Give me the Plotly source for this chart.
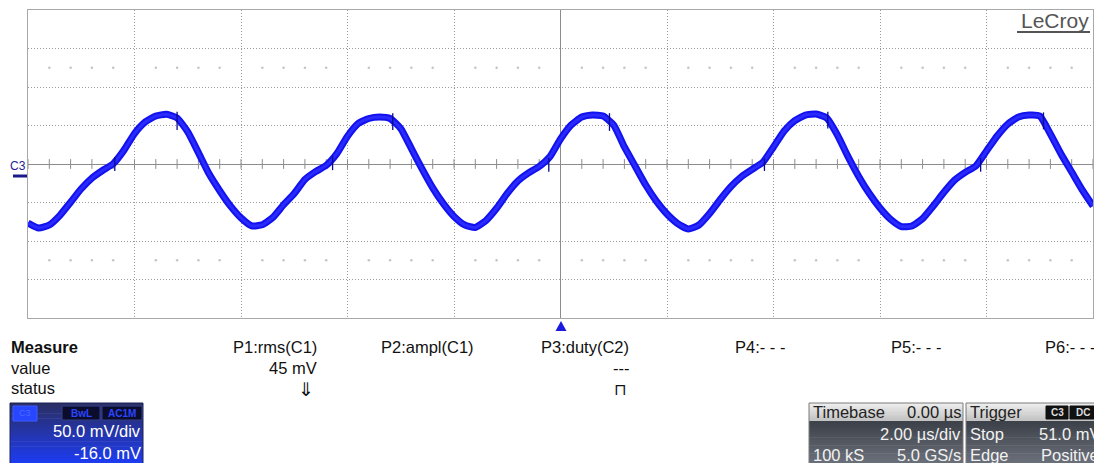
import plotly.graph_objects as go

# ---------------- data ----------------
time_us = [
    -10.0, -9.8, -9.6, -9.4, -9.2, -9.0, -8.8, -8.6, -8.4, -8.2,
    -8.0, -7.8, -7.6, -7.4, -7.2, -7.0, -6.8, -6.6, -6.4, -6.2,
    -6.0, -5.8, -5.6, -5.4, -5.2, -5.0, -4.8, -4.6, -4.4, -4.2,
    -4.0, -3.8, -3.6, -3.4, -3.2, -3.0, -2.8, -2.6, -2.4, -2.2,
    -2.0, -1.8, -1.6, -1.4, -1.2, -1.0, -0.8, -0.6, -0.4, -0.2,
    0.0, 0.2, 0.4, 0.6, 0.8, 1.0, 1.2, 1.4, 1.6, 1.8,
    2.0, 2.2, 2.4, 2.6, 2.8, 3.0, 3.2, 3.4, 3.6, 3.8,
    4.0, 4.2, 4.4, 4.6, 4.8, 5.0, 5.2, 5.4, 5.6, 5.8,
    6.0, 6.2, 6.4, 6.6, 6.8, 7.0, 7.2, 7.4, 7.6, 7.8,
    8.0, 8.2, 8.4, 8.6, 8.8, 9.0, 9.2, 9.4, 9.6, 9.8, 10.0,
]
c3_mV = [
    -76.6, -83.1, -79.2, -66.6, -49.6, -32.2, -18.3, -8.4, 0.3, 17.7,
    39.5, 54.4, 62.3, 64.5, 59.7, 41.7, 14.8, -12.7, -34.7, -54.4,
    -70.0, -80.4, -79.0, -69.3, -52.9, -38.2, -20.1, -9.9, -1.8, 13.5,
    36.1, 52.6, 59.1, 61.0, 59.1, 46.0, 20.0, -6.4, -31.0, -51.5,
    -68.1, -79.1, -82.5, -73.4, -57.5, -38.1, -22.0, -11.6, -3.2, 9.4,
    32.5, 50.6, 61.0, 63.6, 62.3, 50.6, 22.1, -2.6, -27.3, -48.1,
    -64.9, -77.3, -84.4, -79.2, -64.3, -46.1, -29.4, -16.4, -7.0, 2.2,
    22.1, 42.9, 56.4, 63.6, 64.9, 59.7, 37.7, 9.6, -16.1, -38.4,
    -57.1, -71.9, -81.2, -80.5, -70.9, -54.5, -36.8, -21.0, -10.8, -2.6,
    16.9, 36.4, 51.9, 61.0, 63.6, 62.3, 39.0, 13.0, -10.4, -33.8, -54.5,
]
glitch_time_us = [-8.37, -7.20, -4.28, -3.15, -0.22, 0.92, 3.83, 5.02, 7.89, 9.07]
glitch_low_mV = [-9, 44, -8, 44, -10, 43, -9, 46, -10, 45]
glitch_high_mV = [9, 68, 10, 66, 8, 66, 7, 68, 8, 67]

measure_labels = ["P1:rms(C1)", "P2:ampl(C1)", "P3:duty(C2)", "P4:- - -", "P5:- - -", "P6:- - -"]
measure_values = ["45 mV", "", "---", "", "", ""]
measure_status = ["\u21d3", "", "\u2293", "", "", ""]

x_range_us = [-10, 10]      # 2.00 us/div, 10 div
y_range_mV = [-200, 200]    # 50.0 mV/div, 8 div

# ---------------- geometry helpers (pixel -> paper) ----------------
W, H = 1094, 463
PL, PR, PT, PB = 28, 1093, 10, 318
FONT = "Liberation Sans, Arial, sans-serif"
FS = 16.5


def X(px):
    return (px - PL) / (PR - PL)


def Y(py):
    return (PB - py) / (PB - PT)


fig = go.Figure()

# minor tick marks on centre horizontal line & faint dot rows
minor_t = [round(-10 + 0.4 * k, 2) for k in range(51)]
fig.add_trace(go.Scatter(
    x=minor_t, y=[0] * len(minor_t), mode="markers", hoverinfo="skip",
    marker=dict(symbol="line-ns", size=7, line=dict(width=1, color="#8c8c8c")),
    showlegend=False))
dot_t = [t for t in minor_t if abs(t / 2 - round(t / 2)) > 1e-6]
fig.add_trace(go.Scatter(
    x=dot_t * 2, y=[125] * len(dot_t) + [-125] * len(dot_t), mode="markers",
    hoverinfo="skip", marker=dict(symbol="circle", size=2.5, color="#c4c4c4"),
    showlegend=False))

# main trace
fig.add_trace(go.Scatter(
    x=time_us, y=c3_mV, mode="lines", name="C3",
    line=dict(color="#1212ee", width=7, shape="spline", smoothing=0.5),
    showlegend=False))
fig.add_trace(go.Scatter(
    x=time_us, y=c3_mV, mode="lines", hoverinfo="skip",
    line=dict(color="#2a2aff", width=3, shape="spline", smoothing=0.5),
    showlegend=False))

# glitch spikes
gx, gy = [], []
for t, lo, hi in zip(glitch_time_us, glitch_low_mV, glitch_high_mV):
    gx += [t, t, None]
    gy += [lo, hi, None]
fig.add_trace(go.Scatter(
    x=gx, y=gy, mode="lines", line=dict(color="#0a0a8a", width=1.3),
    hoverinfo="skip", showlegend=False))

shapes = []
ann = []


def rect(x0, y0, x1, y1, fill, line=None, lw=0):
    shapes.append(dict(type="rect", xref="paper", yref="paper",
                       x0=X(x0), x1=X(x1), y0=Y(y1), y1=Y(y0),
                       fillcolor=fill, line=dict(width=lw, color=line or fill),
                       layer="above"))


def grad(x0, y0, x1, y1, c0, c1, n=24):
    def hx(c):
        return [int(c[i:i + 2], 16) for i in (1, 3, 5)]
    a, b = hx(c0), hx(c1)
    h = (y1 - y0) / n
    for k in range(n):
        f = k / (n - 1)
        col = "#%02x%02x%02x" % tuple(int(a[j] + (b[j] - a[j]) * f) for j in range(3))
        rect(x0, y0 + k * h, x1, y0 + (k + 1) * h + 0.6, col)


def text(x, y, s, size=FS, color="#111111", anchor="left", bold=False, fam=FONT):
    ann.append(dict(xref="paper", yref="paper", x=X(x), y=Y(y), text=("<b>%s</b>" % s) if bold else s,
                    showarrow=False, xanchor=anchor, yanchor="middle",
                    font=dict(family=fam, size=size, color=color)))


# LeCroy logo
text(1091, 21, "LeCroy", size=21, color="#555555", anchor="right")
shapes.append(dict(type="line", xref="paper", yref="paper", x0=X(1017), x1=X(1090),
                   y0=Y(32), y1=Y(32), line=dict(color="#555555", width=2)))

# C3 channel marker
text(18, 166, "C3", size=12, color="#23239a", anchor="center")
shapes.append(dict(type="line", xref="paper", yref="paper", x0=X(13), x1=X(27),
                   y0=Y(176), y1=Y(176), line=dict(color="#1a1a8a", width=3)))

# trigger position marker
shapes.append(dict(type="path", xref="paper", yref="paper",
                   path="M %f %f L %f %f L %f %f Z" % (X(561), Y(321), X(555.5), Y(331), X(566.5), Y(331)),
                   fillcolor="#1a1ae0", line=dict(width=0)))

# Measure table
text(9, 347, "Measure", bold=True)
text(9, 368, "value")
text(9, 388, "status")
col_right = [319, 476, 631, 787, 943, 1097]
status_size = [19, 15, 16, 15, 15, 15]
for xr, lab, val, st, ss in zip(col_right, measure_labels, measure_values, measure_status, status_size):
    text(xr, 347, lab, anchor="right")
    if val:
        text(xr, 368, val, anchor="right")
    if st:
        text(xr - 3, 389, st, size=ss, anchor="right", fam="DejaVu Sans")

# Channel box (bottom-left)
grad(10, 403, 143, 464, "#2b2f66", "#1e3cf2")
rect(10, 403, 143, 464, "rgba(0,0,0,0)", line="#1b2255", lw=1)
rect(13, 406, 37, 421, "#2846ff", line="#3a5cff", lw=1)
text(25, 413.5, "C3", size=9, color="#4a6aff", anchor="center")
rect(62, 406, 100, 420, "#0c0c2c", line="#30408a", lw=1)
text(81, 413, "BwL", size=10, color="#2a46ff", anchor="center", bold=True)
rect(102, 406, 142, 420, "#0c0c2c", line="#30408a", lw=1)
text(122, 413, "AC1M", size=10, color="#2a46ff", anchor="center", bold=True)
text(143, 431, "50.0 mV/div", color="#ffffff", anchor="right")
text(143, 453, "-16.0 mV", color="#ffffff", anchor="right")

# Timebase box
grad(809, 403, 963, 421, "#ececec", "#c4c4c4", n=8)
grad(809, 421, 963, 464, "#3e424a", "#6a707a", n=16)
rect(809, 403, 963, 464, "rgba(0,0,0,0)", line="#7a7a7a", lw=1)
text(811, 412, "Timebase", color="#222222")
text(963, 412, "0.00 \u00b5s", color="#222222", anchor="right")
text(963, 434, "2.00 \u00b5s/div", color="#f2f2f2", anchor="right")
text(811, 455, "100 kS", color="#f2f2f2")
text(963, 455, "5.0 GS/s", color="#f2f2f2", anchor="right")

# Trigger box
grad(966, 403, 1100, 421, "#ececec", "#c4c4c4", n=8)
grad(966, 421, 1100, 464, "#3e424a", "#6a707a", n=16)
rect(966, 403, 1100, 464, "rgba(0,0,0,0)", line="#7a7a7a", lw=1)
text(968, 412, "Trigger", color="#222222")
rect(1046, 406, 1068, 419, "#111111", line="#111111", lw=1)
text(1057, 412.5, "C3", size=10, color="#dddddd", anchor="center", bold=True)
rect(1070, 406, 1096, 419, "#111111", line="#111111", lw=1)
text(1083, 412.5, "DC", size=10, color="#dddddd", anchor="center", bold=True)
text(968, 434, "Stop", color="#f2f2f2")
text(1102, 434, "51.0 mV", color="#f2f2f2", anchor="right")
text(968, 455, "Edge", color="#f2f2f2")
text(1101, 455, "Positive", color="#f2f2f2", anchor="right")

fig.update_layout(
    width=W, height=H,
    margin=dict(l=PL, r=W - PR, t=PT, b=H - PB, pad=0),
    paper_bgcolor="#ffffff", plot_bgcolor="#ffffff",
    shapes=shapes, annotations=ann,
    xaxis=dict(range=x_range_us, dtick=2, tick0=0, showticklabels=False, ticks="",
               showgrid=True, gridcolor="#9a9a9a", griddash="1px,2px", gridwidth=1,
               zeroline=True, zerolinecolor="#8c8c8c", zerolinewidth=1,
               showline=True, linecolor="#a8a8a8", linewidth=1, mirror=True, fixedrange=True),
    yaxis=dict(range=y_range_mV, dtick=50, tick0=0, showticklabels=False, ticks="",
               showgrid=True, gridcolor="#9a9a9a", griddash="1px,2px", gridwidth=1,
               zeroline=True, zerolinecolor="#8c8c8c", zerolinewidth=1,
               showline=True, linecolor="#a8a8a8", linewidth=1, mirror=True, fixedrange=True),
)

fig.write_html("out.html")
